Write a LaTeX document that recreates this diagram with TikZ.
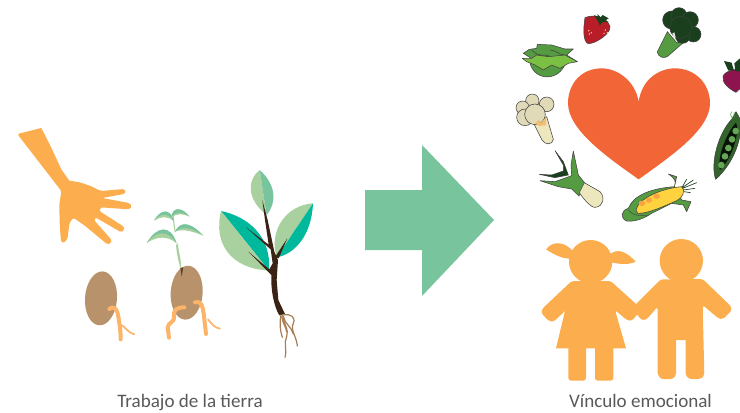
\documentclass[tikz,border=0pt]{standalone}
\usepackage{fontspec}
\setmainfont{Carlito}
\definecolor{skin}{HTML}{FCAD4D}
\definecolor{rootc}{HTML}{FDB469}
\definecolor{seedc}{HTML}{B8926A}
\definecolor{leafl}{HTML}{A9D09F}
\definecolor{leafm}{HTML}{78C49D}
\definecolor{leaft}{HTML}{00B89C}
\definecolor{bark}{HTML}{3A2315}
\definecolor{rootb}{HTML}{A67C52}
\definecolor{heartc}{HTML}{F26537}
\definecolor{darkg}{HTML}{1A3F1C}
\definecolor{midg}{HTML}{559B42}
\definecolor{lightg}{HTML}{7BC043}
\definecolor{creamc}{HTML}{EDE7BE}
\definecolor{creamd}{HTML}{E0DAB8}
\definecolor{berry}{HTML}{B91D27}
\definecolor{beetc}{HTML}{8E1450}
\definecolor{cornc}{HTML}{FFD23F}
\definecolor{kernel}{HTML}{F9A441}
\definecolor{labelc}{HTML}{58595B}
\tikzset{
  soil/.style={shift={(0,110)},x=0.25pt,y=-0.25pt},
  crops/.style={shift={(500,0)},x=0.25pt,y=-0.25pt},
  kids/.style={shift={(520,230)},x=0.25pt,y=-0.25pt},
  rootline/.style={draw=rootc,line cap=round,line join=round,line width=3pt},
  rootthin/.style={draw=rootc,line cap=round,line width=1.3pt},
  fibre/.style={draw=rootb,line cap=round,line width=0.9pt},
  veg/.style={draw=black!75,line width=0.4pt,line join=round},
  caption/.style={font=\fontsize{14.3pt}{17pt}\selectfont,text=labelc,inner sep=0pt}
}
\begin{document}
\begin{tikzpicture}[x=0.75pt,y=-0.75pt]
\useasboundingbox (0,0) rectangle (740,412);
\clip (0,0) rectangle (740,412);

% working the soil: hand, seeds and plant
\begin{scope}[soil]
  \fill[skin,rounded corners=1pt] (52,72) [sharp corners] -- (124,54) -- (150,105) -- (185,180) -- (208,212)
    [rounded corners=1.5pt] -- (240,217) -- (272,228) -- (302,243)
    [rounded corners=1.2pt] -- (372,237) -- (379,245) -- (372,252) -- (306,264)
    -- (388,279) -- (396,289) -- (388,298) -- (302,292) -- (298,303)
    -- (370,349) -- (374,358) -- (364,367) -- (286,322) -- (282,330)
    -- (335,390) -- (333,400) -- (322,403) -- (252,345) -- (220,323) -- (208,340)
    -- (203,385) -- (192,399) -- (183,396) -- (179,340) -- (178,285) -- (184,243) -- cycle;
  % first seed
  \fill[seedc,rotate around={-4:(303,565)}] (303,565) ellipse [x radius=48,y radius=81];
  \draw[rootline] (328,597) .. controls (345,585) and (352,600) .. (355,620) .. controls (358,640) and (362,660) .. (362,688);
  \draw[rootthin] (364,645) .. controls (375,650) and (380,665) .. (403,673);
  % second seed with sprout
  \fill[seedc,rotate around={-4:(560,548)}] (560,548) ellipse [x radius=48,y radius=81];
  \fill[leafl] (528,405) .. controls (530,430) and (535,455) .. (543,478) .. controls (545,450) and (535,425) .. (534,400) -- cycle;
  \fill[bark!70!seedc] (541,474) -- (550,472) -- (545,500) -- cycle;
  \draw[leafl,line width=0.8pt] (521,312) .. controls (518,335) and (525,350) .. (525,365);
  \fill[leafl] (440,399) .. controls (470,350) and (510,340) .. (530,400) .. controls (500,375) and (470,380) .. cycle;
  \fill[leafm] (440,399) .. controls (470,350) and (510,340) .. (530,400) .. controls (505,360) and (470,360) .. cycle;
  \fill[leafl] (610,377) .. controls (580,345) and (545,325) .. (525,365) .. controls (550,355) and (580,365) .. cycle;
  \fill[leafm] (610,377) .. controls (580,345) and (545,325) .. (525,365) .. controls (550,345) and (580,355) .. cycle;
  \fill[leafl] (462,332) .. controls (480,300) and (510,290) .. (522,335) .. controls (505,315) and (480,320) .. cycle;
  \fill[leafm] (462,332) .. controls (480,300) and (510,290) .. (522,335) .. controls (505,305) and (480,310) .. cycle;
  \fill[leafl] (568,320) .. controls (550,295) and (520,285) .. (513,322) .. controls (530,310) and (550,310) .. cycle;
  \fill[leafm] (568,320) .. controls (550,295) and (520,285) .. (513,322) .. controls (530,302) and (550,305) .. cycle;
  \draw[rootline] (553,592) .. controls (530,592) and (520,600) .. (522,618) .. controls (524,640) and (505,635) .. (503,652) -- (507,683);
  \draw[rootline] (585,577) .. controls (605,572) and (608,590) .. (611,610) -- (618,672);
  \draw[rootthin] (624,628) .. controls (635,640) and (640,652) .. (660,656);
  % young plant with three leaves
  \fill[leafl] (779,180) .. controls (745,205) and (735,265) .. (800,315) -- cycle;
  \fill[leafm] (779,180) .. controls (830,225) and (830,280) .. (800,315) -- cycle;
  \fill[leaft] (663,303) .. controls (745,320) and (815,380) .. (807,482) -- cycle;
  \fill[leafl] (663,303) .. controls (640,400) and (690,475) .. (807,482) -- cycle;
  \fill[leafl] (939,280) .. controls (860,285) and (805,360) .. (830,442) -- cycle;
  \fill[leaft] (939,280) .. controls (935,375) and (885,432) .. (830,442) -- cycle;
  \fill[bark] (787,270) -- (803,330) -- (823,425) -- (834,450) -- (830,510) -- (835,570) -- (855,612) -- (838,616)
     .. controls (822,590) and (812,540) .. (814,495) -- (745,425) -- (808,478) -- (818,460) -- (812,418) -- (738,352) -- (806,404) -- (795,330) -- cycle;
  \fill[bark] (826,440) -- (862,385) -- (836,445) -- cycle;
  \draw[fibre] (843,615) .. controls (838,640) and (840,660) .. (847,682);
  \draw[fibre] (848,615) .. controls (850,640) and (868,660) .. (860,680) .. controls (850,700) and (862,720) .. (855,742);
  \draw[fibre] (852,614) .. controls (870,612) and (888,620) .. (880,640) .. controls (870,660) and (890,680) .. (892,708);
  \draw[fibre] (850,618) .. controls (852,640) and (875,650) .. (880,672);
  \draw[fibre] (845,620) .. controls (848,640) and (858,650) .. (860,665);
\end{scope}

% large arrow in the middle
\fill[leafm] (365,190) -- (422,190) -- (422,145) -- (494,220) -- (422,296) -- (422,250) -- (365,250) -- cycle;

% heart surrounded by vegetables
\begin{scope}[crops]
  \fill[heartc] (416,305) .. controls (405,240) and (350,205) .. (305,205)
    .. controls (245,205) and (204,250) .. (204,310)
    .. controls (205,390) and (320,470) .. (416,538)
    .. controls (510,470) and (630,390) .. (630,310)
    .. controls (630,250) and (585,205) .. (525,205)
    .. controls (475,205) and (425,240) .. (416,305) -- cycle;
  % strawberry
  \draw[veg,fill=berry] (255,53) .. controls (280,42) and (322,50) .. (330,80)
    .. controls (332,100) and (290,130) .. (265,131) .. controls (248,125) and (250,85) .. (255,53) -- cycle;
  \fill[darkg] (282,45) -- (294,50) -- (292,42) -- (302,52) -- (308,45) -- (326,55) -- (315,62) -- (326,66) -- (306,67) -- (300,77) -- (292,60) -- cycle;
  \foreach \p in {(266,92),(274,98),(268,102),(316,90),(322,98),(312,100)} \fill[kernel!70!white] \p circle (2.5);
  % broccoli
  \draw[veg,fill=midg] (472,155) -- (502,95) -- (530,128) -- (552,126) -- (504,168) .. controls (495,176) and (476,175) .. (472,155) -- cycle;
  \fill[darkg] (505,70) -- (540,40) -- (580,60) -- (590,105) -- (548,120) -- (520,100) -- cycle;
  \foreach \c/\r in {(515,60)/27,(537,47)/24,(570,60)/25,(580,103)/23,(548,108)/22,(542,82)/33}
    \draw[veg,fill=darkg] \c circle (\r);
  \fill[white!85!darkg] (517,100) -- (523,97) -- (527,112) -- (520,112) -- cycle;
  % lettuce
  \draw[veg,fill=midg] (90,190) .. controls (105,245) and (180,245) .. (198,185) -- cycle;
  \draw[veg,fill=midg] (70,160) -- (88,148) -- (110,145) -- (112,133) -- (155,135) -- (195,147) -- (220,147) -- (200,165) -- (232,185) -- (110,185) -- cycle;
  \draw[veg,fill=lightg] (67,175) -- (95,175) -- (110,165) -- (145,170) -- (195,165) -- (232,185) -- (205,190) -- (180,205) -- (155,195) -- (130,210) -- (105,195) -- (80,185) -- cycle;
  \draw[veg] (95,150) .. controls (120,175) and (130,160) .. (148,168) (150,150) .. controls (170,150) and (175,165) .. (195,165);
  % cauliflower
  \draw[veg,fill=creamc] (100,368) -- (126,420) .. controls (135,436) and (158,435) .. (160,418) -- (140,350) -- cycle;
  \foreach \c/\r in {(97,302)/20,(140,313)/22,(68,323)/20,(75,352)/25,(105,343)/31}
    \draw[veg,fill=creamd] \c circle (\r);
  \fill[orange!40!creamc] (105,370) -- (118,358) -- (122,370) -- (138,352) -- (138,376) -- (118,378) -- cycle;
  % leek
  \draw[veg,fill=darkg] (165,452) -- (190,485) -- (205,525) -- (165,533) -- (118,523) -- (155,525) -- (190,513) -- (190,495) -- cycle;
  \draw[veg,fill=midg] (220,453) -- (235,525) -- (255,550) -- (237,588) -- (215,567) -- (175,560) -- (120,542) -- (165,545) -- (215,527) -- (213,495) -- cycle;
  \draw[veg,fill=creamc] (253,548) -- (300,575) .. controls (315,590) and (312,620) .. (285,622) .. controls (270,622) and (250,595) .. (238,578) -- cycle;
  % corn
  \draw[veg,fill=midg] (505,522) -- (530,530) -- (523,560) -- (545,600) -- (573,605) -- (560,635) -- (550,615) -- (515,610)
    -- (455,640) .. controls (425,660) and (400,665) .. (380,663) .. controls (360,655) and (362,632) .. (385,625)
    .. controls (400,585) and (455,565) .. (523,560) .. controls (530,545) and (525,535) .. (505,522) -- cycle;
  \draw[veg,fill=cornc] (408,630) .. controls (415,595) and (485,565) .. (545,560) .. controls (558,570) and (548,595) .. (530,602)
    .. controls (490,620) and (440,642) .. (413,640) -- cycle;
  \draw[black!75,line width=0.3pt] (385,630) .. controls (395,645) and (420,650) .. (445,645);
  \foreach \c in {(426,610),(447,600),(470,589)} \fill[kernel] \c ellipse [x radius=10,y radius=8];
  \draw[darkg,line width=0.5pt] (548,565) -- (590,548) (548,562) -- (580,540) (550,570) -- (585,565) (546,562) -- (560,538) (552,575) -- (572,578);
  % peas
  \draw[veg,fill=midg!40!darkg] (647,538) .. controls (630,490) and (655,400) .. (695,358) -- (708,335) -- (722,360) .. controls (728,430) and (690,500) .. (647,538) -- cycle;
  \fill[black!70!darkg] (660,510) .. controls (650,470) and (680,400) .. (708,368) .. controls (720,390) and (700,470) .. (660,510) -- cycle;
  \foreach \c in {(664,495),(675,469),(685,444),(696,418),(707,393)} \fill[midg!90!white] \c circle (10);
  \draw[midg,line width=0.4pt] (698,355) .. controls (688,345) and (692,340) .. (695,335) (703,352) -- (702,336);
  % beet
  \draw[veg,fill=beetc] (708,277) .. controls (690,268) and (665,250) .. (669,230) .. controls (672,210) and (725,200) .. (750,215) -- (750,250) .. controls (735,262) and (720,262) .. (708,277) -- cycle;
  \fill[darkg] (672,183) -- (695,188) -- (702,212) -- (685,212) -- cycle;
  \fill[darkg] (720,175) -- (703,190) -- (706,214) -- (722,214) -- (735,190) -- cycle;
\end{scope}

% two children holding hands
\begin{scope}[kids]
  \fill[skin] (212,95) circle (65);
  \fill[skin] (78,58) .. controls (100,30) and (135,35) .. (160,65) -- (165,85) .. controls (130,90) and (105,75) .. cycle;
  \fill[skin] (265,78) .. controls (290,50) and (320,65) .. (347,95) .. controls (320,108) and (285,100) .. (268,95) -- cycle;
  \fill[skin,rounded corners=2pt] (155,153) -- (272,153) -- (355,228) -- (355,250) -- (335,273) -- (320,270) -- (285,240)
    [sharp corners] -- (318,355) -- (108,355) -- (135,243)
    [rounded corners=2pt] -- (100,276) -- (85,272) -- (63,248) -- (68,235) -- cycle;
  \fill[skin,rounded corners=2pt] (145,345) -- (198,345) -- (198,452) -- (145,452) -- cycle;
  \fill[skin,rounded corners=2pt] (225,345) -- (280,345) -- (280,452) -- (225,452) -- cycle;
  \fill[skin] (484,92) circle (65);
  \fill[skin,rounded corners=2pt] (422,148) -- (548,147) -- (634,230) -- (634,243) -- (608,268) -- (595,265) -- (548,225)
    -- (553,435) -- (545,446) -- (510,448) -- (497,437)
    [sharp corners] -- (497,330) -- (468,330)
    [rounded corners=2pt] -- (468,437) -- (458,447) -- (425,448) -- (413,435) -- (413,230)
    -- (380,268) -- (365,271) -- (345,245) -- (345,225) -- cycle;
\end{scope}

% captions
\node[caption,anchor=base] (trabajo) at (190,407.5) {Trabajo de la tierra};
\node[caption,anchor=base] (vinculo) at (640.5,407.5) {Vínculo emocional};
\end{tikzpicture}
\end{document}
